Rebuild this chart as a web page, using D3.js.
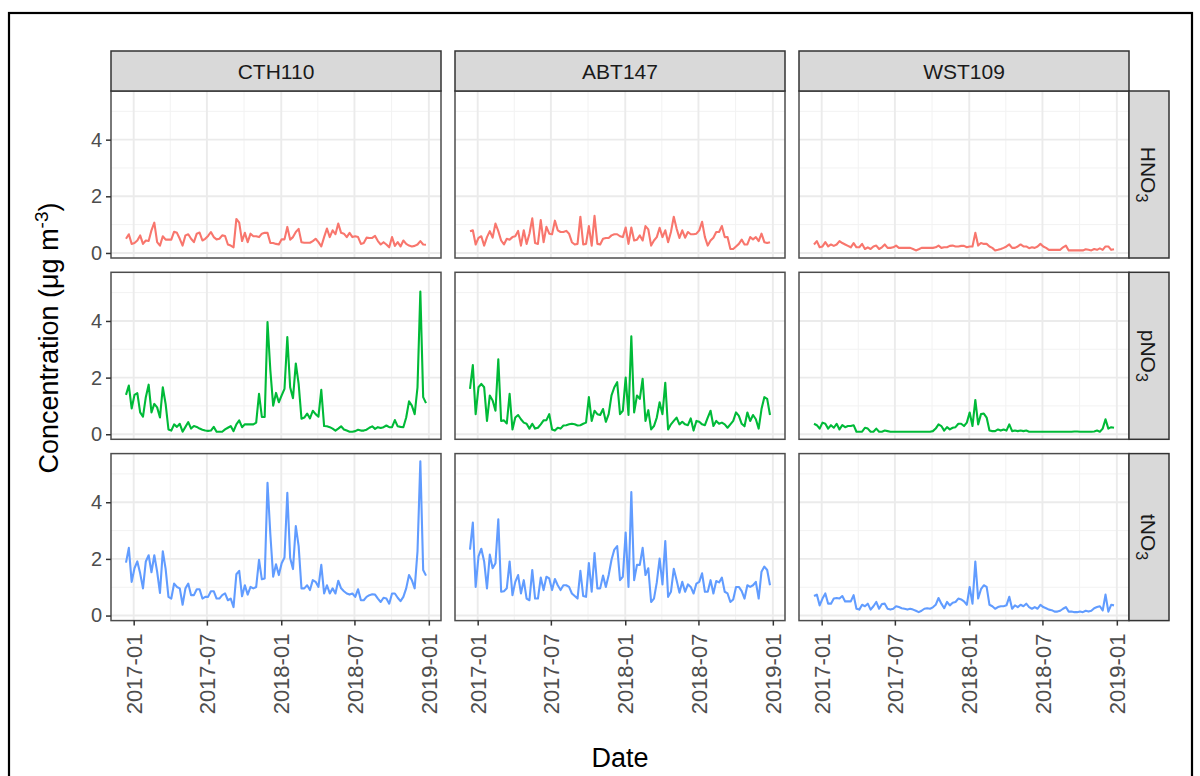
<!DOCTYPE html>
<html>
<head>
<meta charset="utf-8">
<script src="https://cdn.jsdelivr.net/npm/d3@7"></script>
<style>
  body { margin: 0; background: #fff; }
  svg { display: block; }
  text { font-family: "Liberation Sans", Arial, sans-serif; }
</style>
</head>
<body>
<svg id="chart" width="1200" height="776"></svg>
<script>
// ---- data: weekly filter-pack concentrations (µg m-3) ----
const sites = ["CTH110", "ABT147", "WST109"];
const species = ["HNO3", "pNO3", "tNO3"];
const speciesColors = ["#F8766D", "#00BA38", "#619CFF"];
const firstSampleDate = "2016-12-13";   // weekly sampling from this date
const yTickValues = [0, 2, 4];
const xTickLabels = ["2017-01", "2017-07", "2018-01", "2018-07", "2019-01"];

const cth110_HNO3 = [0.50,0.66,0.32,0.35,0.44,0.62,0.32,0.44,0.42,0.80,
  1.07,0.38,0.26,0.59,0.47,0.47,0.47,0.75,0.71,0.50,
  0.26,0.62,0.66,0.50,0.38,0.68,0.72,0.44,0.50,0.60,
  0.74,0.56,0.48,0.50,0.62,0.60,0.30,0.26,0.20,1.20,
  1.07,0.42,0.71,0.38,0.68,0.59,0.59,0.56,0.68,0.71,
  0.71,0.35,0.35,0.32,0.30,0.48,0.48,0.92,0.47,0.56,
  0.74,0.85,0.38,0.36,0.36,0.36,0.42,0.50,0.38,0.23,
  0.56,0.86,0.56,0.80,0.66,1.04,0.71,0.68,0.56,0.71,
  0.56,0.59,0.56,0.32,0.35,0.54,0.53,0.53,0.60,0.42,
  0.30,0.38,0.30,0.20,0.56,0.25,0.38,0.23,0.44,0.32,
  0.26,0.23,0.25,0.30,0.42,0.30,0.29];
const cth110_pNO3 = [1.39,1.72,0.91,1.39,1.45,0.77,0.62,1.31,1.75,0.77,
  1.07,0.95,0.59,1.66,1.07,0.17,0.13,0.35,0.26,0.37,
  0.09,0.26,0.43,0.20,0.29,0.26,0.20,0.16,0.13,0.12,
  0.13,0.26,0.09,0.09,0.09,0.17,0.23,0.29,0.11,0.35,
  0.49,0.25,0.35,0.35,0.35,0.35,0.41,1.43,0.61,0.61,
  3.96,2.26,1.01,1.46,1.13,1.37,1.60,3.43,1.66,1.27,
  2.50,1.78,0.55,0.59,0.73,0.56,0.83,0.71,0.62,1.57,
  0.29,0.28,0.25,0.20,0.13,0.20,0.28,0.17,0.13,0.09,
  0.09,0.11,0.16,0.13,0.13,0.16,0.23,0.28,0.19,0.25,
  0.22,0.25,0.31,0.25,0.25,0.50,0.28,0.26,0.25,0.59,
  1.16,1.01,0.71,1.66,5.04,1.31,1.10];
const cth110_tNO3 = [1.87,2.39,1.19,1.67,1.91,1.49,0.96,1.91,2.13,1.53,
  2.13,1.55,0.80,2.27,1.65,0.66,0.60,1.13,1.01,0.96,
  0.38,0.96,1.13,0.72,0.72,0.93,0.93,0.60,0.66,0.66,
  0.86,0.86,0.60,0.60,0.72,0.78,0.54,0.60,0.30,1.46,
  1.58,0.68,1.07,0.74,1.01,0.96,1.01,1.97,1.28,1.31,
  4.69,2.87,1.37,1.81,1.43,1.85,2.05,4.33,2.03,1.64,
  3.16,2.45,0.96,0.96,1.07,0.90,1.25,1.19,1.01,1.79,
  0.78,1.07,0.78,0.96,0.78,1.23,0.96,0.86,0.78,0.74,
  0.78,0.66,0.93,0.54,0.54,0.66,0.72,0.75,0.74,0.60,
  0.48,0.63,0.60,0.42,0.78,0.78,0.63,0.51,0.66,0.96,
  1.43,1.25,0.96,2.27,5.45,1.61,1.41];

const abt147_HNO3 = [0.77,0.80,0.30,0.53,0.59,0.26,0.56,0.77,0.54,1.04,
  0.77,0.44,0.30,0.50,0.47,0.56,0.59,0.78,0.26,0.80,
  0.32,0.68,1.22,0.35,0.32,1.16,0.38,0.92,0.68,0.66,
  1.14,0.80,0.74,0.74,0.78,0.68,0.38,0.30,0.32,1.28,
  0.30,0.32,0.95,0.26,1.31,0.32,0.30,0.50,0.53,0.53,
  0.62,0.66,0.66,0.59,0.56,0.90,0.32,0.90,0.44,0.47,
  0.62,0.44,0.95,0.83,0.26,0.44,0.56,0.89,0.56,0.80,
  0.38,0.74,1.28,0.86,0.53,0.80,0.54,0.74,0.66,0.66,
  0.68,0.80,1.10,0.56,0.26,0.44,0.54,0.74,0.74,0.95,
  0.56,0.56,0.14,0.14,0.23,0.32,0.47,0.30,0.30,0.56,
  0.48,0.56,0.42,0.68,0.38,0.35,0.38];
const abt147_pNO3 = [1.60,2.44,0.71,1.66,1.78,1.66,0.47,1.37,1.19,0.83,
  2.65,0.47,0.49,0.38,1.43,0.17,0.59,0.68,0.53,0.41,
  0.37,0.20,0.37,0.20,0.23,0.35,0.49,0.50,0.71,0.17,
  0.13,0.23,0.20,0.31,0.32,0.35,0.37,0.35,0.31,0.32,
  0.37,0.41,1.31,0.47,0.83,0.71,0.68,0.89,0.44,0.71,
  1.37,1.66,1.84,0.71,0.83,2.00,0.68,3.46,0.77,1.37,
  1.25,1.96,0.47,0.85,0.17,0.29,0.59,1.13,0.71,1.82,
  0.17,0.35,0.47,0.59,0.35,0.44,0.35,0.32,0.56,0.13,
  0.47,0.44,0.35,0.32,0.59,0.83,0.29,0.47,0.37,0.41,
  0.35,0.23,0.35,0.47,0.77,0.65,0.37,0.28,0.77,0.47,
  0.68,0.53,0.20,0.89,1.31,1.25,0.68];
const abt147_tNO3 = [2.33,3.28,1.01,2.09,2.36,1.91,0.96,2.15,1.67,1.85,
  3.40,0.84,0.86,0.96,1.91,0.72,1.19,1.43,0.78,1.25,
  0.60,0.54,1.61,0.60,0.60,1.34,0.90,1.37,1.31,0.90,
  1.29,1.07,0.90,1.07,1.07,1.01,0.78,0.69,0.60,1.58,
  0.69,0.66,1.85,0.84,2.21,0.96,0.96,1.41,1.01,1.43,
  1.97,2.33,2.45,1.25,1.37,2.93,1.01,4.36,1.25,1.79,
  1.79,2.39,1.43,1.67,0.48,0.60,1.17,2.01,1.10,2.63,
  0.66,0.84,1.65,1.25,0.81,1.19,0.84,1.10,1.01,0.78,
  1.13,1.19,1.49,0.84,0.84,1.25,0.78,1.22,1.17,1.34,
  0.84,0.78,0.48,0.57,1.01,1.01,0.86,0.60,1.07,1.01,
  1.07,1.19,0.60,1.55,1.73,1.61,1.07];

const wst109_HNO3 = [0.30,0.42,0.20,0.23,0.38,0.23,0.30,0.25,0.30,0.42,
  0.35,0.30,0.25,0.20,0.35,0.20,0.20,0.32,0.14,0.20,
  0.14,0.23,0.26,0.14,0.20,0.30,0.18,0.18,0.20,0.26,
  0.18,0.18,0.18,0.18,0.18,0.14,0.09,0.13,0.18,0.18,
  0.18,0.18,0.18,0.20,0.26,0.18,0.20,0.20,0.25,0.26,
  0.23,0.23,0.25,0.25,0.20,0.23,0.23,0.71,0.26,0.35,
  0.32,0.32,0.23,0.18,0.09,0.11,0.14,0.18,0.23,0.30,
  0.18,0.18,0.23,0.30,0.23,0.23,0.17,0.20,0.18,0.23,
  0.32,0.23,0.18,0.11,0.11,0.11,0.11,0.11,0.20,0.26,
  0.09,0.09,0.09,0.09,0.09,0.09,0.13,0.11,0.09,0.14,
  0.11,0.16,0.11,0.23,0.23,0.11,0.13];
const wst109_pNO3 = [0.37,0.32,0.20,0.41,0.37,0.20,0.32,0.23,0.37,0.17,
  0.32,0.25,0.29,0.29,0.32,0.09,0.09,0.09,0.23,0.20,
  0.09,0.09,0.20,0.09,0.09,0.13,0.11,0.09,0.09,0.09,
  0.09,0.09,0.09,0.09,0.09,0.09,0.09,0.09,0.09,0.09,
  0.09,0.09,0.11,0.20,0.35,0.29,0.13,0.25,0.17,0.23,
  0.25,0.37,0.37,0.29,0.41,0.77,0.29,1.21,0.35,0.71,
  0.73,0.59,0.13,0.11,0.11,0.17,0.13,0.17,0.13,0.35,
  0.11,0.13,0.11,0.13,0.11,0.13,0.09,0.09,0.09,0.09,
  0.09,0.09,0.09,0.09,0.09,0.09,0.09,0.09,0.09,0.09,
  0.09,0.09,0.10,0.10,0.09,0.09,0.09,0.09,0.09,0.10,
  0.13,0.09,0.20,0.53,0.20,0.25,0.23];
const wst109_tNO3 = [0.69,0.74,0.36,0.60,0.78,0.42,0.42,0.60,0.62,0.60,
  0.69,0.50,0.50,0.50,0.72,0.24,0.21,0.38,0.33,0.42,
  0.21,0.33,0.48,0.24,0.41,0.42,0.24,0.21,0.24,0.33,
  0.30,0.26,0.24,0.21,0.24,0.21,0.17,0.12,0.17,0.24,
  0.26,0.24,0.29,0.38,0.62,0.42,0.26,0.48,0.36,0.45,
  0.48,0.60,0.57,0.50,0.38,1.01,0.42,1.91,0.60,0.93,
  1.07,1.01,0.38,0.33,0.24,0.30,0.33,0.33,0.36,0.66,
  0.24,0.36,0.30,0.38,0.33,0.42,0.30,0.24,0.30,0.24,
  0.38,0.30,0.26,0.21,0.19,0.14,0.14,0.17,0.24,0.30,
  0.14,0.14,0.12,0.12,0.14,0.12,0.17,0.14,0.17,0.26,
  0.30,0.33,0.18,0.74,0.14,0.38,0.36];

const seriesBySite = {
  CTH110: [cth110_HNO3, cth110_pNO3, cth110_tNO3],
  ABT147: [abt147_HNO3, abt147_pNO3, abt147_tNO3],
  WST109: [wst109_HNO3, wst109_pNO3, wst109_tNO3]
};

// ---- facet grid geometry ----
const svg = d3.select("#chart");
const gridLeft = 111, panelW = 330, colGap = 14;
const gridTop = 91, panelH = 167, rowGap = 14.3;
const stripSize = 40;
const FONT = "'Liberation Sans', Arial, sans-serif";

const start = new Date(firstSampleDate + "T00:00:00Z");
const allSeries = sites.flatMap(s => seriesBySite[s]);
const nWeeks = d3.max(allSeries, a => a.length);
const dates = d3.range(nWeeks).map(i => d3.utcDay.offset(start, 7 * i));

// continuous scales with 5% expansion on both ends
function expand([a, b], f = 0.05) { const d = (b - a) * f; return [a - d, b + d]; }
const tExt = d3.extent(dates).map(d => +d);
const x = d3.scaleUtc().domain(expand(tExt).map(v => new Date(v))).range([0, panelW]);
const yExt = [d3.min(allSeries, a => d3.min(a)), d3.max(allSeries, a => d3.max(a))];
const y = d3.scaleLinear().domain(expand(yExt)).range([panelH, 0]);

const xMajor = xTickLabels.map(s => new Date(s + "-01T00:00:00Z"));
const xMinor = d3.pairs(xMajor).map(([a, b]) => new Date((+a + +b) / 2));
const yMinor = d3.pairs(yTickValues.concat([6])).map(([a, b]) => (a + b) / 2)
  .filter(v => v >= y.domain()[0] && v <= y.domain()[1]);

const fmt = d3.utcFormat("%Y-%m");
const line = d3.line().x((d, i) => x(dates[i])).y(d => y(d));

// outer frame
svg.append("rect").attr("x", 9).attr("y", 13).attr("width", 1183).attr("height", 790)
  .attr("fill", "#fff").attr("stroke", "#000").attr("stroke-width", 2.2);

function speciesLabel(sel, name) {
  // chemical formula with subscript 3
  sel.append("tspan").text(name.slice(0, -1));
  sel.append("tspan").text(name.slice(-1)).attr("font-size", 16).attr("dy", 5);
}

species.forEach((sp, r) => {
  sites.forEach((site, c) => {
    const px = gridLeft + c * (panelW + colGap);
    const py = gridTop + r * (panelH + rowGap);
    const g = svg.append("g").attr("transform", `translate(${px},${py})`);

    g.append("rect").attr("width", panelW).attr("height", panelH).attr("fill", "#fff");

    // minor grid
    g.selectAll(".vmin").data(xMinor).join("line")
      .attr("x1", d => x(d)).attr("x2", d => x(d)).attr("y1", 0).attr("y2", panelH)
      .attr("stroke", "#F2F2F2").attr("stroke-width", 1);
    g.selectAll(".hmin").data(yMinor).join("line")
      .attr("y1", d => y(d)).attr("y2", d => y(d)).attr("x1", 0).attr("x2", panelW)
      .attr("stroke", "#F2F2F2").attr("stroke-width", 1);
    // major grid
    g.selectAll(".vmaj").data(xMajor).join("line")
      .attr("x1", d => x(d)).attr("x2", d => x(d)).attr("y1", 0).attr("y2", panelH)
      .attr("stroke", "#EBEBEB").attr("stroke-width", 1.9);
    g.selectAll(".hmaj").data(yTickValues).join("line")
      .attr("y1", d => y(d)).attr("y2", d => y(d)).attr("x1", 0).attr("x2", panelW)
      .attr("stroke", "#EBEBEB").attr("stroke-width", 1.9);

    // series line
    g.append("path").datum(seriesBySite[site][r])
      .attr("d", line).attr("fill", "none")
      .attr("stroke", speciesColors[r]).attr("stroke-width", 2.1)
      .attr("stroke-linejoin", "round");

    g.append("rect").attr("width", panelW).attr("height", panelH)
      .attr("fill", "none").attr("stroke", "#4D4D4D").attr("stroke-width", 1.5);

    // left axis
    if (c === 0) {
      const ax = g.append("g").call(d3.axisLeft(y).tickValues(yTickValues).tickSize(5).tickPadding(4).tickFormat(d3.format("d")));
      ax.select(".domain").remove();
      ax.selectAll(".tick line").attr("stroke", "#333").attr("stroke-width", 1.5);
      ax.selectAll(".tick text").attr("fill", "#4D4D4D").attr("font-size", 20)
        .attr("font-family", FONT);
    }
    // bottom axis
    if (r === species.length - 1) {
      const ax = g.append("g").attr("transform", `translate(0,${panelH})`)
        .call(d3.axisBottom(x).tickValues(xMajor).tickSize(5).tickFormat(fmt));
      ax.select(".domain").remove();
      ax.selectAll(".tick line").attr("stroke", "#333").attr("stroke-width", 1.5);
      ax.selectAll(".tick text").attr("fill", "#4D4D4D").attr("font-size", 22)
        .attr("font-family", FONT)
        .attr("transform", "rotate(-90)").attr("text-anchor", "end")
        .attr("x", -13).attr("y", 0).attr("dy", "0.35em");
    }
    // top strips
    if (r === 0) {
      g.append("rect").attr("y", -stripSize).attr("width", panelW).attr("height", stripSize)
        .attr("fill", "#D9D9D9").attr("stroke", "#333").attr("stroke-width", 1.5);
      g.append("text").attr("x", panelW / 2).attr("y", -stripSize / 2).attr("dy", "0.36em")
        .attr("text-anchor", "middle").attr("font-size", 21).attr("fill", "#1A1A1A").text(site);
    }
    // right strips
    if (c === sites.length - 1) {
      g.append("rect").attr("x", panelW).attr("width", stripSize).attr("height", panelH)
        .attr("fill", "#D9D9D9").attr("stroke", "#333").attr("stroke-width", 1.5);
      const t = g.append("text")
        .attr("transform", `translate(${panelW + stripSize / 2},${panelH / 2}) rotate(90)`)
        .attr("text-anchor", "middle").attr("dy", "0.36em")
        .attr("font-size", 21).attr("fill", "#1A1A1A");
      speciesLabel(t, sp);
    }
  });
});

// axis titles
const yTitle = svg.append("text")
  .attr("transform", "translate(58,338) rotate(-90)")
  .attr("text-anchor", "middle").attr("font-size", 27).attr("fill", "#000");
yTitle.append("tspan").text("Concentration (\u03BCg m");
yTitle.append("tspan").text("-3").attr("font-size", 19).attr("dy", -10);
yTitle.append("tspan").text(")").attr("dy", 10);

svg.append("text")
  .attr("x", gridLeft + (3 * panelW + 2 * colGap) / 2).attr("y", 767)
  .attr("text-anchor", "middle").attr("font-size", 27).attr("fill", "#000").text("Date");
</script>
</body>
</html>
